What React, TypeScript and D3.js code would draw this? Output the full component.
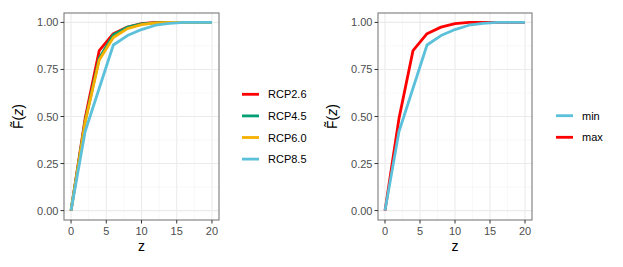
import React from "react";
import * as d3 from "d3";

/* DATA */
const zValues = [0, 2, 4, 6, 8, 10, 12, 14, 16, 18, 20];
const rcp26 = [0, 0.49, 0.85, 0.94, 0.975, 0.993, 1, 1, 1, 1, 1];
const rcp45 = [0, 0.475, 0.81, 0.935, 0.975, 0.992, 0.998, 1, 1, 1, 1];
const rcp60 = [0, 0.47, 0.8, 0.92, 0.967, 0.988, 0.997, 1, 1, 1, 1];
const rcp85 = [0, 0.42, 0.65, 0.88, 0.93, 0.962, 0.985, 0.995, 1, 1, 1];

const xTicks = [0, 5, 10, 15, 20];
const yTicks = [0, 0.25, 0.5, 0.75, 1];

const leftSeries = [
  { name: "RCP2.6", values: rcp26, color: "#FF0000" },
  { name: "RCP4.5", values: rcp45, color: "#009E73" },
  { name: "RCP6.0", values: rcp60, color: "#F5B000" },
  { name: "RCP8.5", values: rcp85, color: "#5BC0DA" },
];
// legend order differs from draw order on the right
const rightLegend = [
  { name: "min", values: rcp85, color: "#5BC0DA" },
  { name: "max", values: rcp26, color: "#FF0000" },
];
const rightDraw = [rightLegend[1], rightLegend[0]];

const font = "'Liberation Sans', Arial, sans-serif";

function Panel(props: Props) {
  const { left, right, top, bottom } = props;
  const w = right - left;
  const h = bottom - top;
  const x = d3
    .scaleLinear()
    .domain([-1, 21])
    .range([left, right]);
  const y = d3
    .scaleLinear()
    .domain([-0.05, 1.05])
    .range([bottom, top]);

  const line = d3
    .line<number>()
    .x((d, i) => x(zValues[i]))
    .y((d) => y(d));

  const minorX = [2.5, 7.5, 12.5, 17.5];
  const minorY = [0.125, 0.375, 0.625, 0.875];

  return (
    <g>
      <rect x={left} y={top} width={w} height={h} fill="#fff" />
      {minorX.map((v) => (
        <line key={"mx" + v} x1={x(v)} x2={x(v)} y1={top} y2={bottom} stroke="#f2f2f2" strokeWidth={0.55} />
      ))}
      {minorY.map((v) => (
        <line key={"my" + v} x1={left} x2={right} y1={y(v)} y2={y(v)} stroke="#f2f2f2" strokeWidth={0.55} />
      ))}
      {xTicks.map((v) => (
        <line key={"gx" + v} x1={x(v)} x2={x(v)} y1={top} y2={bottom} stroke="#ebebeb" strokeWidth={1.1} />
      ))}
      {yTicks.map((v) => (
        <line key={"gy" + v} x1={left} x2={right} y1={y(v)} y2={y(v)} stroke="#ebebeb" strokeWidth={1.1} />
      ))}
      {props.series.map((s) => (
        <path
          key={s.name}
          d={line(s.values) as string}
          fill="none"
          stroke={s.color}
          strokeWidth={2.8}
          strokeLinejoin="round"
        />
      ))}
      <rect x={left} y={top} width={w} height={h} fill="none" stroke="#7a7a7a" strokeWidth={1.1} />
      {xTicks.map((v) => (
        <g key={"tx" + v}>
          <line x1={x(v)} x2={x(v)} y1={bottom} y2={bottom + 3.5} stroke="#333" strokeWidth={1} />
          <text x={x(v)} y={bottom + 14.5} textAnchor="middle" fontSize={11} fill="#4d4d4d" fontFamily={font}>
            {v}
          </text>
        </g>
      ))}
      {yTicks.map((v) => (
        <g key={"ty" + v}>
          <line x1={left - 3.5} x2={left} y1={y(v)} y2={y(v)} stroke="#333" strokeWidth={1} />
          <text x={left - 5.5} y={y(v) + 4} textAnchor="end" fontSize={11} fill="#4d4d4d" fontFamily={font}>
            {v.toFixed(2)}
          </text>
        </g>
      ))}
      <text x={(left + right) / 2} y={251} textAnchor="middle" fontSize={14} fill="#000" fontFamily={font}>
        z
      </text>
      <text
        transform={`translate(${left - 41},${(top + bottom) / 2}) rotate(-90)`}
        textAnchor="middle"
        fontSize={14}
        fill="#000"
        fontFamily={font}
      >
        {"F\u0303("}
        <tspan fontStyle="italic">z</tspan>
        {")"}
      </text>
      {props.legend.map((s, i) => (
        <g key={"lg" + s.name}>
          <line
            x1={props.legendX}
            x2={props.legendX + 17}
            y1={props.legendY + i * 21.6}
            y2={props.legendY + i * 21.6}
            stroke={s.color}
            strokeWidth={2.8}
          />
          <text
            x={props.legendX + 26}
            y={props.legendY + i * 21.6 + 4}
            fontSize={11}
            fill="#000"
            fontFamily={font}
          >
            {s.name}
          </text>
        </g>
      ))}
    </g>
  );
}

interface Props {
  left: number;
  right: number;
  top: number;
  bottom: number;
  series: any[];
  legend: any[];
  legendX: number;
  legendY: number;
}

export default function App() {
  return (
    <svg width={623} height={267} style={{ position: "absolute", left: 0, top: 0 }}>
      <rect width={623} height={267} fill="#fff" />
      <Panel
        left={64}
        right={219}
        top={13}
        bottom={220}
        series={leftSeries}
        legend={leftSeries}
        legendX={242}
        legendY={94.3}
      />
      <Panel
        left={378}
        right={532}
        top={13}
        bottom={220}
        series={rightDraw}
        legend={rightLegend}
        legendX={556}
        legendY={115.7}
      />
    </svg>
  );
}
